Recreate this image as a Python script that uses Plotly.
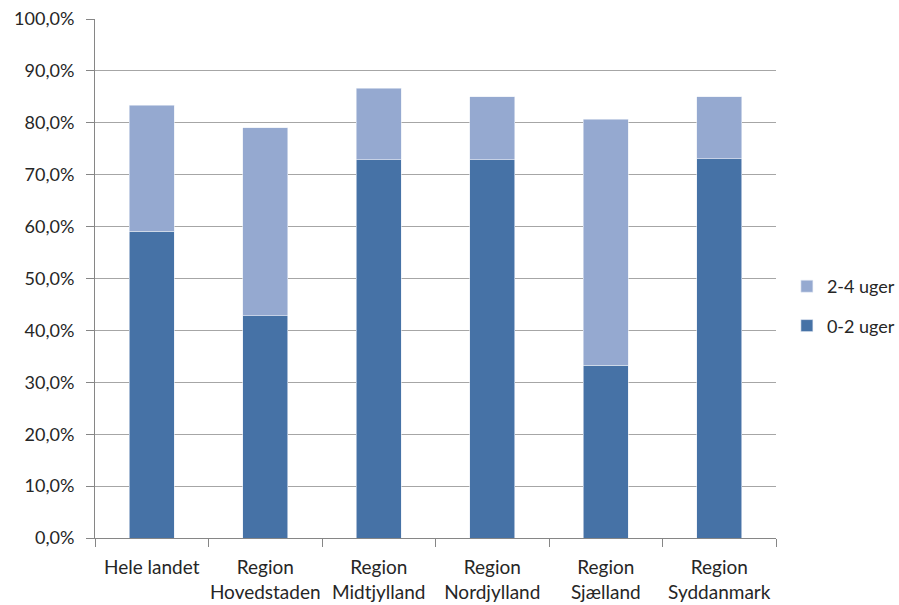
import plotly.graph_objects as go

categories = [
    "Hele landet",
    "Region<br>Hovedstaden",
    "Region<br>Midtjylland",
    "Region<br>Nordjylland",
    "Region<br>Sjælland",
    "Region<br>Syddanmark",
]
# share (%) handled within 0-2 weeks and within 2-4 weeks
uger_0_2 = [59.1, 42.8, 72.9, 72.9, 33.3, 73.1]
uger_2_4 = [24.3, 36.2, 13.8, 12.1, 47.4, 11.9]

DARK = "#4672A6"
LIGHT = "#95A9D0"
FONT = "Lato, 'Noto Sans', sans-serif"

fig = go.Figure()
fig.add_trace(go.Bar(
    x=categories, y=uger_0_2, name="0-2 uger", legendgroup="a", legendrank=2,
    marker=dict(color=DARK, line=dict(color="#E8EDF5", width=0.6)),
))
fig.add_trace(go.Bar(
    x=categories, y=uger_2_4, name="2-4 uger", legendgroup="b", legendrank=1,
    marker=dict(color=LIGHT, line=dict(color="#E8EDF5", width=0.6)),
))

fig.update_layout(
    width=899, height=605,
    barmode="stack",
    bargap=0.6,
    plot_bgcolor="white",
    paper_bgcolor="white",
    separators=",.",
    font=dict(family=FONT, size=18, color="#262626"),
    margin=dict(l=95, r=123, t=19, b=67, autoexpand=False),
    legend=dict(
        x=1.016, xanchor="left", xref="paper",
        y=0.447, yanchor="middle",
        traceorder="grouped",
        tracegroupgap=13,
        font=dict(size=18, family=FONT),
        itemwidth=30,
    ),
    xaxis=dict(
        showline=True, linecolor="#868686", linewidth=1,
        ticks="outside", tickson="boundaries", ticklen=8, tickcolor="#868686",
        showgrid=False,
        tickangle=0,
        tickfont=dict(size=19),
        ticklabelstandoff=12,
    ),
    yaxis=dict(
        range=[0, 100],
        dtick=10,
        tickformat=".1f",
        ticksuffix="%",
        showline=True, linecolor="#868686", linewidth=1,
        ticks="outside", ticklen=8, tickcolor="#868686",
        showgrid=True, gridcolor="#A6A6A6", gridwidth=1,
        zeroline=False,
        tickfont=dict(size=18),
        ticklabelstandoff=8,
    ),
)

fig.write_html("out.html")
